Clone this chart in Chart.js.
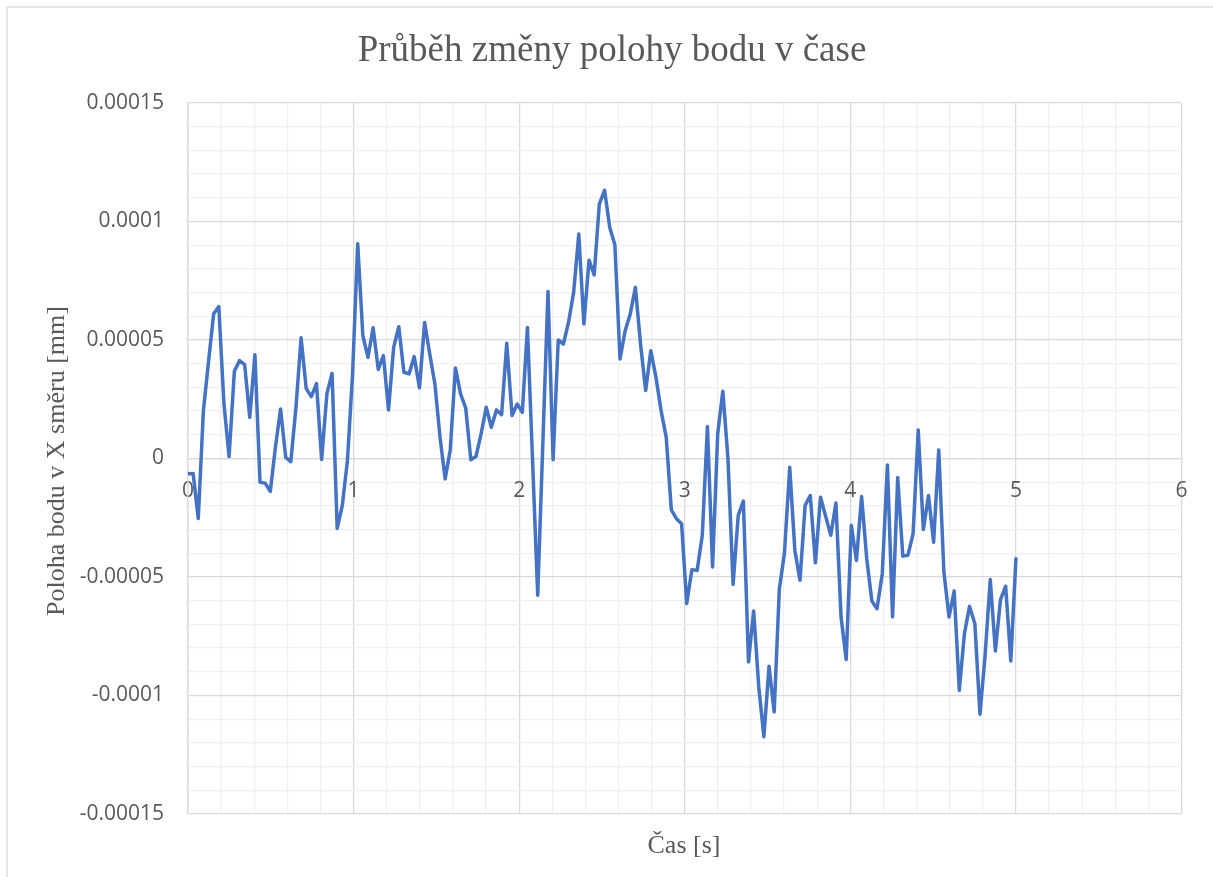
<!DOCTYPE html>
<html>
<head>
<meta charset="utf-8">
<script src="https://cdn.jsdelivr.net/npm/chart.js@4.4.1/dist/chart.umd.min.js"></script>
<style>
  html, body { margin: 0; padding: 0; background: #fff; }
  #wrap { width: 1213px; height: 877px; position: relative; }
</style>
</head>
<body>
<div id="wrap"><canvas id="chart" width="1213" height="877"></canvas></div>
<script>
// time [s]
const times = [
  0, 0.031, 0.062, 0.093, 0.124, 0.155, 0.186, 0.217, 0.248, 0.280,
  0.311, 0.342, 0.373, 0.404, 0.435, 0.466, 0.497, 0.528, 0.559, 0.590,
  0.621, 0.652, 0.683, 0.714, 0.745, 0.776, 0.807, 0.839, 0.870, 0.901,
  0.932, 0.963, 0.994, 1.025, 1.056, 1.087, 1.118, 1.149, 1.180, 1.211,
  1.242, 1.273, 1.304, 1.335, 1.366, 1.398, 1.429, 1.460, 1.491, 1.522,
  1.553, 1.584, 1.615, 1.646, 1.677, 1.708, 1.739, 1.770, 1.801, 1.832,
  1.863, 1.894, 1.925, 1.957, 1.988, 2.019, 2.050, 2.081, 2.112, 2.143,
  2.174, 2.205, 2.236, 2.267, 2.298, 2.329, 2.360, 2.391, 2.422, 2.453,
  2.484, 2.516, 2.547, 2.578, 2.609, 2.640, 2.671, 2.702, 2.733, 2.764,
  2.795, 2.826, 2.857, 2.888, 2.919, 2.950, 2.981, 3.012, 3.043, 3.075,
  3.106, 3.137, 3.168, 3.199, 3.230, 3.261, 3.292, 3.323, 3.354, 3.385,
  3.416, 3.447, 3.478, 3.509, 3.540, 3.571, 3.602, 3.634, 3.665, 3.696,
  3.727, 3.758, 3.789, 3.820, 3.851, 3.882, 3.913, 3.944, 3.975, 4.006,
  4.037, 4.068, 4.099, 4.130, 4.161, 4.193, 4.224, 4.255, 4.286, 4.317,
  4.348, 4.379, 4.410, 4.441, 4.472, 4.503, 4.534, 4.565, 4.596, 4.627,
  4.658, 4.689, 4.720, 4.752, 4.783, 4.814, 4.845, 4.876, 4.907, 4.938,
  4.969, 5.000
];

// position in X direction [mm]
const posX = [
  -0.64e-5, -0.63e-5, -2.53e-5, 2.02e-5, 4.09e-5, 6.11e-5, 6.41e-5, 2.32e-5, 0.08e-5, 3.68e-5,
  4.13e-5, 3.96e-5, 1.74e-5, 4.38e-5, -1.00e-5, -1.04e-5, -1.39e-5, 0.48e-5, 2.09e-5, 0.05e-5,
  -0.13e-5, 2.16e-5, 5.09e-5, 2.95e-5, 2.61e-5, 3.16e-5, -0.04e-5, 2.74e-5, 3.59e-5, -2.95e-5,
  -1.98e-5, -0.08e-5, 3.58e-5, 9.06e-5, 5.18e-5, 4.27e-5, 5.52e-5, 3.76e-5, 4.34e-5, 2.05e-5,
  4.69e-5, 5.56e-5, 3.64e-5, 3.57e-5, 4.30e-5, 2.98e-5, 5.74e-5, 4.41e-5, 3.15e-5, 0.90e-5,
  -0.86e-5, 0.37e-5, 3.82e-5, 2.73e-5, 2.14e-5, -0.05e-5, 0.08e-5, 1.04e-5, 2.16e-5, 1.32e-5,
  2.05e-5, 1.85e-5, 4.86e-5, 1.81e-5, 2.30e-5, 1.95e-5, 5.53e-5, -0.10e-5, -5.77e-5, 0.64e-5,
  7.05e-5, -0.05e-5, 5.00e-5, 4.83e-5, 5.74e-5, 7.01e-5, 9.47e-5, 5.68e-5, 8.37e-5, 7.75e-5,
  10.73e-5, 11.32e-5, 9.75e-5, 9.02e-5, 4.20e-5, 5.39e-5, 6.10e-5, 7.22e-5, 4.83e-5, 2.87e-5,
  4.55e-5, 3.43e-5, 2.02e-5, 0.90e-5, -2.17e-5, -2.54e-5, -2.75e-5, -6.12e-5, -4.69e-5, -4.72e-5,
  -3.24e-5, 1.35e-5, -4.58e-5, 1.04e-5, 2.84e-5, -0.01e-5, -5.31e-5, -2.40e-5, -1.80e-5, -8.58e-5,
  -6.43e-5, -9.64e-5, -11.74e-5, -8.77e-5, -10.69e-5, -5.53e-5, -3.99e-5, -0.37e-5, -3.88e-5, -5.14e-5,
  -1.98e-5, -1.56e-5, -4.40e-5, -1.63e-5, -2.44e-5, -3.24e-5, -1.88e-5, -6.69e-5, -8.48e-5, -2.82e-5,
  -4.30e-5, -1.60e-5, -4.23e-5, -6.01e-5, -6.34e-5, -4.86e-5, -0.27e-5, -6.68e-5, -0.80e-5, -4.12e-5,
  -4.08e-5, -3.17e-5, 1.20e-5, -3.00e-5, -1.56e-5, -3.53e-5, 0.36e-5, -4.79e-5, -6.69e-5, -5.59e-5,
  -9.78e-5, -7.39e-5, -6.24e-5, -6.97e-5, -10.79e-5, -8.30e-5, -5.11e-5, -8.12e-5, -5.95e-5, -5.39e-5,
  -8.54e-5, -4.23e-5
];

const chartTitle = 'Průběh změny polohy bodu v čase';
const xTitle = 'Čas [s]';
const yTitle = 'Poloha bodu v X směru [mm]';

const majorGrid = '#d9d9d9';
const minorGrid = '#f0f0f0';
const textColor = '#595959';

function isMajorX(v) { return Math.abs(v - Math.round(v)) < 1e-6; }
function isMajorY(v) { return Math.round(v * 1e5) % 5 === 0; }

// draws the chart frame and titles the way Excel places them
const excelText = {
    id: 'excelText',
    beforeDraw(chart) {
        const c = chart.ctx;
        c.save();
        c.fillStyle = '#ffffff';
        c.fillRect(0, 0, chart.width, chart.height);
        c.strokeStyle = '#d9d9d9';
        c.lineWidth = 1.3;
        c.strokeRect(7, 7, 1240, 900);
        c.restore();
    },
    afterDraw(chart) {
        const c = chart.ctx;
        c.save();
        c.fillStyle = textColor;
        c.textAlign = 'center';
        c.textBaseline = 'alphabetic';
        c.font = '37px "Liberation Serif", "Times New Roman", serif';
        c.fillText(chartTitle, 612, 61);
        c.font = '26px "Liberation Serif", "Times New Roman", serif';
        c.fillText(xTitle, 684, 853);
        c.translate(64, 461);
        c.rotate(-Math.PI / 2);
        c.fillText(yTitle, 0, 0);
        c.restore();
    }
};

const ctx = document.getElementById('chart').getContext('2d');
new Chart(ctx, {
    type: 'line',
    data: {
        datasets: [{
            data: times.map((t, i) => ({ x: t, y: posX[i] })),
            borderColor: '#4472C4',
            borderWidth: 3.5,
            borderJoinStyle: 'round',
            borderCapStyle: 'round',
            pointRadius: 0,
            tension: 0,
            fill: false
        }]
    },
    options: {
        responsive: false,
        animation: false,
        events: [],
        layout: { padding: { left: 0, top: 103, right: 31.5, bottom: 63 } },
        plugins: {
            legend: { display: false },
            title: { display: false },
            tooltip: { enabled: false }
        },
        scales: {
            x: {
                type: 'linear',
                position: { y: 0 },
                min: 0,
                max: 6,
                ticks: {
                    stepSize: 0.2,
                    autoSkip: false,
                    maxRotation: 0,
                    padding: 20,
                    color: textColor,
                    font: { family: '"Open Sans", sans-serif', size: 21 },
                    callback: v => isMajorX(v) ? String(Math.round(v)) : ''
                },
                grid: {
                    drawTicks: false,
                    lineWidth: 1.3,
                    color: c => isMajorX(c.tick.value) ? majorGrid : minorGrid
                },
                border: { display: true, color: majorGrid, width: 1.3 }
            },
            y: {
                type: 'linear',
                min: -0.00015,
                max: 0.00015,
                afterFit: s => { s.width = 188; },
                ticks: {
                    stepSize: 0.00001,
                    autoSkip: false,
                    padding: 24,
                    color: textColor,
                    font: { family: '"Open Sans", sans-serif', size: 21 },
                    callback: v => isMajorY(v) ? String(Math.round(v * 1e5) / 1e5) : ''
                },
                grid: {
                    drawTicks: false,
                    lineWidth: 1.3,
                    color: c => isMajorY(c.tick.value) ? majorGrid : minorGrid
                },
                border: { display: true, color: majorGrid, width: 1.3 }
            }
        }
    },
    plugins: [excelText]
});
</script>
</body>
</html>
